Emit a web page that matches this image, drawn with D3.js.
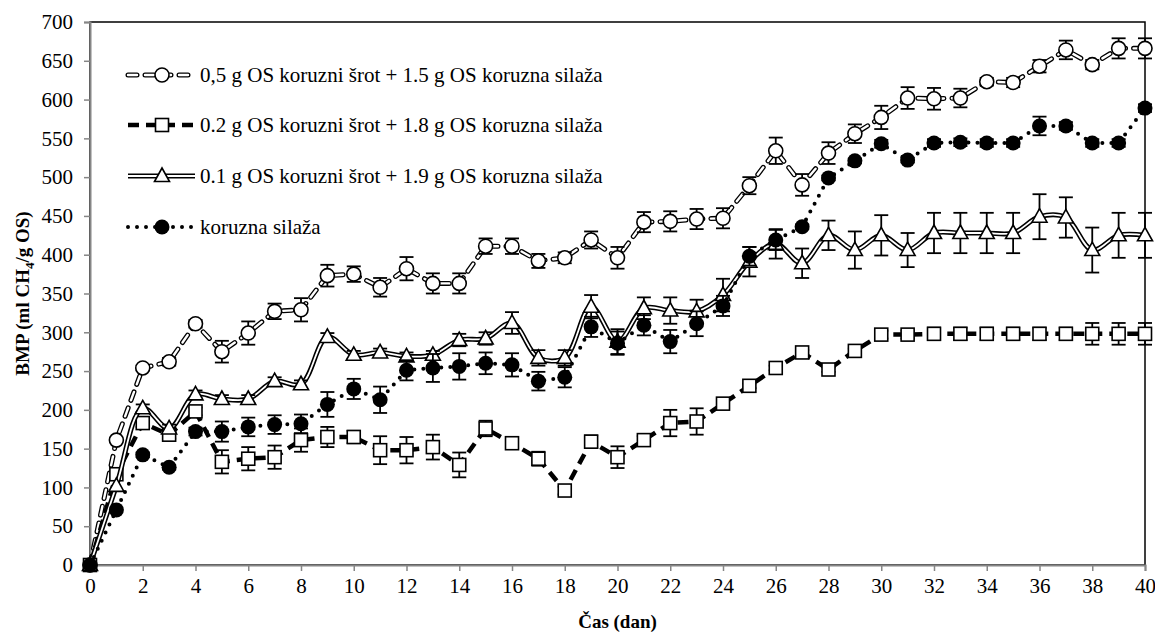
<!DOCTYPE html>
<html>
<head>
<meta charset="utf-8">
<script src="https://cdn.jsdelivr.net/npm/d3@7"></script>
<style>
  body { margin: 0; background: #fff; }
  svg text { font-family: "Liberation Serif", "Times New Roman", serif; fill: #000; }
</style>
</head>
<body>
<svg id="chart" width="1155" height="633"></svg>
<script>
// days of measurement
const days = d3.range(0, 41);

// 0,5 g OS koruzni šrot + 1.5 g OS koruzna silaža
const circleVals = [0, 161, 254, 262, 311, 275, 299, 327, 329, 373, 375, 358, 382, 363, 363, 411, 411, 392, 396, 419, 396,
  442, 443, 446, 447, 489, 534, 490, 531, 556, 577, 602, 601, 602, 623, 622, 643, 664, 645, 666, 666];
const circleErr = [0, 0, 3, 5, 5, 14, 15, 10, 15, 14, 10, 12, 15, 13, 13, 10, 10, 9, 7, 11, 14,
  13, 13, 13, 13, 11, 17, 14, 14, 12, 15, 14, 14, 12, 5, 6, 8, 12, 6, 13, 13];

// 0.2 g OS koruzni šrot + 1.8 g OS koruzna silaža
const squareVals = [0, 117, 183, 168, 198, 133, 137, 139, 161, 165, 165, 148, 148, 152, 129, 176, 157, 137, 96, 159, 139,
  161, 183, 185, 208, 231, 254, 274, 252, 276, 297, 297, 298, 298, 298, 298, 298, 298, 298, 298, 298];
const squareErr = [0, 0, 5, 5, 5, 15, 15, 15, 15, 13, 8, 18, 17, 16, 16, 10, 5, 9, 5, 8, 14,
  5, 17, 17, 3, 3, 3, 3, 3, 3, 5, 5, 8, 8, 8, 8, 8, 8, 14, 14, 14];

// 0.1 g OS koruzni šrot + 1.9 g OS koruzna silaža
const triVals = [0, 102, 202, 176, 220, 214, 214, 237, 233, 294, 271, 274, 269, 271, 290, 292, 312, 267, 267, 333, 288,
  331, 328, 327, 348, 391, 414, 389, 425, 406, 425, 406, 428, 428, 428, 428, 449, 448, 406, 425, 425];
const triErr = [0, 0, 5, 5, 5, 5, 5, 5, 5, 5, 5, 5, 5, 5, 8, 8, 14, 10, 10, 15, 16,
  14, 17, 15, 21, 19, 19, 19, 19, 24, 26, 22, 26, 26, 26, 26, 29, 26, 29, 29, 29];

// koruzna silaža
const dotVals = [0, 71, 142, 126, 172, 172, 178, 181, 182, 207, 227, 213, 251, 254, 256, 260, 258, 237, 242, 307, 286,
  309, 288, 311, 334, 398, 419, 436, 499, 521, 543, 522, 544, 545, 544, 544, 566, 566, 544, 544, 589];
const dotErr = [0, 0, 3, 3, 5, 13, 12, 12, 12, 16, 13, 17, 13, 18, 17, 14, 15, 12, 13, 13, 15,
  13, 15, 16, 13, 12, 13, 3, 3, 3, 5, 3, 5, 5, 5, 5, 12, 5, 5, 5, 5];

const seriesNames = [
  "0,5 g OS koruzni šrot + 1.5 g OS koruzna silaža",
  "0.2 g OS koruzni šrot + 1.8 g OS koruzna silaža",
  "0.1 g OS koruzni šrot + 1.9 g OS koruzna silaža",
  "koruzna silaža"
];
const xTicks = d3.range(0, 41, 2);
const yTicks = d3.range(0, 701, 50);

const margin = { left: 90, right: 10, top: 22, bottom: 68 };
const width = 1155, height = 633;

const svg = d3.select("#chart");

const x = d3.scaleLinear().domain([0, 40]).range([margin.left, width - margin.right]);
const y = d3.scaleLinear().domain([0, 700]).range([height - margin.bottom, margin.top]);

// plot border (top / right black)
svg.append("rect")
  .attr("x", x(0)).attr("y", y(700))
  .attr("width", x(40) - x(0)).attr("height", y(0) - y(700))
  .attr("fill", "none").attr("stroke", "#000").attr("stroke-width", 1.5);

// axes
const xAxis = svg.append("g")
  .attr("transform", `translate(0,${y(0)})`)
  .call(d3.axisBottom(x).tickValues(xTicks).tickSize(6).tickPadding(7).tickFormat(d3.format("d")));
const yAxis = svg.append("g")
  .attr("transform", `translate(${x(0)},0)`)
  .call(d3.axisLeft(y).tickValues(yTicks).tickSize(6).tickPadding(11).tickFormat(d3.format("d")));
[xAxis, yAxis].forEach(ax => {
  ax.select(".domain").attr("stroke", "#868686").attr("stroke-width", 2);
  ax.selectAll(".tick line").attr("stroke", "#868686").attr("stroke-width", 1.5);
  ax.selectAll("text").attr("font-size", 21).attr("font-family", "Liberation Serif").attr("fill", "#000");
});

// axis titles
svg.append("text")
  .attr("x", (x(0) + x(40)) / 2).attr("y", 628)
  .attr("text-anchor", "middle").attr("font-size", 19).attr("font-weight", "bold")
  .text("Čas (dan)");
const yt = svg.append("text")
  .attr("transform", `translate(29,${(y(0) + y(700)) / 2}) rotate(-90)`)
  .attr("text-anchor", "middle").attr("font-size", 19).attr("font-weight", "bold");
yt.append("tspan").text("BMP (ml CH");
yt.append("tspan").attr("font-size", 13).attr("dy", 5).text("4");
yt.append("tspan").attr("dy", -5).text("/g OS)");

const plot = svg.append("g");

// line styles for the four series
function drawLine(g, data, kind) {
  if (kind === "circle") {
    const line = d3.line().x(d => x(d.day)).y(d => y(d.v));
    g.append("path").attr("d", line(data)).attr("fill", "none").attr("stroke", "#000")
      .attr("stroke-width", 5).attr("stroke-dasharray", "9,8").attr("stroke-linecap", "round");
    g.append("path").attr("d", line(data)).attr("fill", "none").attr("stroke", "#fff")
      .attr("stroke-width", 2.4).attr("stroke-dasharray", "9,8").attr("stroke-linecap", "round");
  } else if (kind === "square") {
    const line = d3.line().x(d => x(d.day)).y(d => y(d.v));
    g.append("path").attr("d", line(data)).attr("fill", "none").attr("stroke", "#000")
      .attr("stroke-width", 4.5).attr("stroke-dasharray", "11,7");
  } else if (kind === "triangle") {
    const line = d3.line().curve(d3.curveCatmullRom.alpha(0.5)).x(d => x(d.day)).y(d => y(d.v));
    g.append("path").attr("d", line(data)).attr("fill", "none").attr("stroke", "#000")
      .attr("stroke-width", 5);
    g.append("path").attr("d", line(data)).attr("fill", "none").attr("stroke", "#fff")
      .attr("stroke-width", 1.8);
  } else {
    const line = d3.line().x(d => x(d.day)).y(d => y(d.v));
    g.append("path").attr("d", line(data)).attr("fill", "none").attr("stroke", "#000")
      .attr("stroke-width", 4).attr("stroke-dasharray", "0,9").attr("stroke-linecap", "round");
  }
}

function drawMarker(g, cx, cy, kind) {
  if (kind === "circle") {
    g.append("circle").attr("cx", cx).attr("cy", cy).attr("r", 7)
      .attr("fill", "#fff").attr("stroke", "#000").attr("stroke-width", 1.6);
  } else if (kind === "square") {
    g.append("rect").attr("x", cx - 6.5).attr("y", cy - 6.5).attr("width", 13).attr("height", 13)
      .attr("fill", "#fff").attr("stroke", "#000").attr("stroke-width", 1.6);
  } else if (kind === "triangle") {
    g.append("path").attr("d", `M${cx},${cy - 8}L${cx + 7.5},${cy + 5.5}L${cx - 7.5},${cy + 5.5}Z`)
      .attr("fill", "#fff").attr("stroke", "#000").attr("stroke-width", 1.6);
  } else {
    g.append("circle").attr("cx", cx).attr("cy", cy).attr("r", 7.5).attr("fill", "#000");
  }
}

const series = [
  { kind: "circle", vals: circleVals, err: circleErr },
  { kind: "square", vals: squareVals, err: squareErr },
  { kind: "triangle", vals: triVals, err: triErr },
  { kind: "dot", vals: dotVals, err: dotErr }
];

series.forEach(s => {
  const data = days.map((d, i) => ({ day: d, v: s.vals[i], e: s.err[i] }));
  const g = plot.append("g");
  drawLine(g, data, s.kind);

  // error bars
  const eb = g.append("g").attr("stroke", "#000").attr("stroke-width", 1.8);
  data.filter(d => d.e > 0).forEach(d => {
    const cx = x(d.day), y1 = y(d.v + d.e), y2 = y(d.v - d.e);
    eb.append("line").attr("x1", cx).attr("x2", cx).attr("y1", y1).attr("y2", y2);
    eb.append("line").attr("x1", cx - 7).attr("x2", cx + 7).attr("y1", y1).attr("y2", y1);
    eb.append("line").attr("x1", cx - 7).attr("x2", cx + 7).attr("y1", y2).attr("y2", y2);
  });

  data.forEach(d => drawMarker(g, x(d.day), y(d.v), s.kind));
});

// legend
const legendY = [75, 125, 176, 227];
series.forEach((s, i) => {
  const g = svg.append("g");
  const ly = legendY[i];
  const pts = [{ day: x.invert(128), v: y.invert(ly) }, { day: x.invert(195), v: y.invert(ly) }];
  drawLine(g, pts, s.kind);
  drawMarker(g, 162, ly, s.kind);
  g.append("text").attr("x", 200).attr("y", ly + 7).attr("font-size", 21).text(seriesNames[i]);
});
</script>
</body>
</html>
